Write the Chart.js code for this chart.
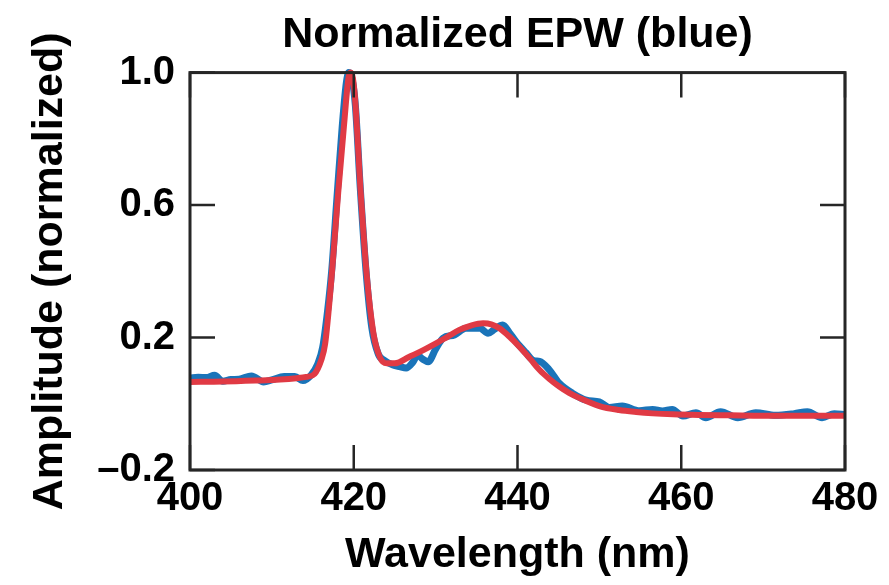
<!DOCTYPE html>
<html>
<head>
<meta charset="utf-8">
<script src="https://cdn.jsdelivr.net/npm/chart.js@4.4.0/dist/chart.umd.min.js"></script>
<style>
  body { margin: 0; background: #fff; }
  #wrap { width: 889px; height: 585px; }
</style>
</head>
<body>
<div id="wrap"><canvas id="epw"></canvas></div>
<script>
// measured EPW spectrum (blue)
var blueWavelength = [400, 401, 402, 403, 404, 405, 406, 407.5, 409, 410, 411.5, 412.8, 413.8, 414.8,
    415.6, 416.2, 416.8, 417.3, 418.0, 418.6, 419.1, 419.4, 419.8, 420.2, 420.8, 421.5, 422.2, 423.0,
    423.8, 424.8, 425.6, 426.4, 427.2, 427.8, 428.4, 429.1, 430.0, 430.9, 432.3, 433.7, 435.4, 436.4,
    437.2, 438.2, 439.0, 439.8, 441.0, 442.0, 442.7, 443.9, 445.1, 446.7, 448.4, 450.0, 451.2, 452.8,
    454.9, 456.5, 457.7, 458.9, 460.2, 461.8, 463.0, 464.8, 466.9, 469.1, 471.5, 473.8, 475.4, 477.2,
    478.7, 480];
var blueAmplitude = [0.078, 0.080, 0.079, 0.086, 0.068, 0.073, 0.074, 0.084, 0.066, 0.072, 0.082, 0.082, 0.070, 0.087,
    0.120, 0.170, 0.280, 0.400, 0.640, 0.840, 0.970, 1.000, 0.980, 0.900, 0.650, 0.400, 0.230, 0.150,
    0.130, 0.117, 0.112, 0.108, 0.125, 0.147, 0.135, 0.127, 0.165, 0.198, 0.208, 0.228, 0.228, 0.213,
    0.225, 0.238, 0.215, 0.188, 0.155, 0.130, 0.128, 0.102, 0.062, 0.032, 0.011, 0.006, -0.011, -0.007,
    -0.021, -0.017, -0.022, -0.017, -0.037, -0.027, -0.042, -0.024, -0.042, -0.027, -0.035, -0.030, -0.024, -0.042,
    -0.030, -0.033];

// fitted curve (red)
var fitWavelength = [400, 404, 408, 411, 413, 414.2, 415.2, 416.0, 416.5, 417.3, 418.1, 418.8, 419.4, 419.65,
    420.1, 420.85, 421.6, 422.4, 423.2, 424.0, 425.0, 426.8, 428.5, 430.1, 431.5, 432.9, 434.4, 435.8,
    436.8, 437.8, 439.0, 440.2, 441.5, 442.7, 443.9, 445.1, 446.3, 447.6, 450.0, 452.4, 454.5, 456.5,
    459, 462.2, 466, 470, 475, 480];
var fitAmplitude = [0.066, 0.067, 0.070, 0.073, 0.077, 0.081, 0.090, 0.130, 0.180, 0.384, 0.637, 0.838, 0.990, 1.000,
    0.940, 0.637, 0.384, 0.214, 0.140, 0.122, 0.122, 0.142, 0.162, 0.183, 0.203, 0.223, 0.237, 0.243,
    0.240, 0.228, 0.203, 0.173, 0.137, 0.102, 0.075, 0.052, 0.033, 0.017, -0.007, -0.019, -0.025, -0.029,
    -0.032, -0.034, -0.035, -0.036, -0.036, -0.036];

var xTicks = [400, 420, 440, 460, 480];
var yTicks = [-0.2, 0.2, 0.6, 1.0];

var fontFamily = "'Liberation Sans', Arial, Helvetica, sans-serif";

function toPoints(xs, ys) {
    return xs.map(function (x, i) { return { x: x, y: ys[i] }; });
}

// box + inward ticks on all four sides
var framePlugin = {
    id: 'frame',
    afterDatasetsDraw: function (chart) {
        var ctx = chart.ctx;
        var a = chart.chartArea;
        var xs = chart.scales.x, ys = chart.scales.y;
        var len = 25;
        ctx.save();
        ctx.strokeStyle = '#262626';
        ctx.lineWidth = 3;
        ctx.strokeRect(a.left, a.top, a.right - a.left, a.bottom - a.top);
        ctx.lineWidth = 2.5;
        ctx.beginPath();
        xTicks.forEach(function (v) {
            var px = xs.getPixelForValue(v);
            ctx.moveTo(px, a.bottom); ctx.lineTo(px, a.bottom - len);
            ctx.moveTo(px, a.top); ctx.lineTo(px, a.top + len);
        });
        yTicks.forEach(function (v) {
            var py = ys.getPixelForValue(v);
            ctx.moveTo(a.left, py); ctx.lineTo(a.left + len, py);
            ctx.moveTo(a.right, py); ctx.lineTo(a.right - len, py);
        });
        ctx.stroke();
        ctx.restore();
    }
};

var ctx = document.getElementById('epw').getContext('2d');
var chart = new Chart(ctx, {
    type: 'line',
    data: {
        // first dataset is painted last, so the fit sits on top
        datasets: [{
            label: 'Fit',
            data: toPoints(fitWavelength, fitAmplitude),
            borderColor: '#e03a44',
            borderWidth: 6,
            pointRadius: 0,
            tension: 0.4,
            cubicInterpolationMode: 'monotone',
            clip: false
        }, {
            label: 'EPW',
            data: toPoints(blueWavelength, blueAmplitude),
            borderColor: '#1a74b9',
            borderWidth: 7,
            pointRadius: 0,
            tension: 0.4,
            cubicInterpolationMode: 'monotone',
            clip: false
        }]
    },
    options: {
        responsive: true,
        maintainAspectRatio: false,
        animation: false,
        layout: { padding: { left: 0, right: 44, top: 0, bottom: 0 } },
        plugins: {
            legend: { display: false },
            tooltip: { enabled: false },
            title: {
                display: true,
                fullSize: false,
                text: 'Normalized EPW (blue)',
                color: '#000',
                font: { family: fontFamily, size: 43, weight: 'bold' },
                padding: { top: 9, bottom: 12 }
            }
        },
        scales: {
            x: {
                type: 'linear',
                min: 400,
                max: 480,
                grid: { display: false, drawTicks: false },
                border: { display: false },
                afterBuildTicks: function (scale) {
                    scale.ticks = xTicks.map(function (v) { return { value: v }; });
                },
                afterFit: function (scale) { scale.height = 115; },
                ticks: {
                    color: '#000',
                    padding: 5,
                    maxRotation: 0,
                    font: { family: fontFamily, size: 40, weight: 'bold' },
                    callback: function (v) { return String(v); }
                },
                title: {
                    display: true,
                    text: 'Wavelength (nm)',
                    color: '#000',
                    font: { family: fontFamily, size: 43, weight: 'bold' },
                    padding: { top: 0, bottom: 4 }
                }
            },
            y: {
                min: -0.2,
                max: 1.0,
                grid: { display: false, drawTicks: false },
                border: { display: false },
                afterBuildTicks: function (scale) {
                    scale.ticks = yTicks.map(function (v) { return { value: v }; });
                },
                afterFit: function (scale) { scale.width = 190; },
                ticks: {
                    color: '#000',
                    padding: 15,
                    font: { family: fontFamily, size: 40, weight: 'bold' },
                    callback: function (v) {
                        return v < 0 ? '\u2013' + Math.abs(v).toFixed(1) : v.toFixed(1);
                    }
                },
                title: {
                    display: true,
                    text: 'Amplitude (normalized)',
                    color: '#000',
                    font: { family: fontFamily, size: 43, weight: 'bold' },
                    padding: { top: 24, bottom: 0 }
                }
            }
        }
    },
    plugins: [framePlugin]
});
</script>
</body>
</html>
